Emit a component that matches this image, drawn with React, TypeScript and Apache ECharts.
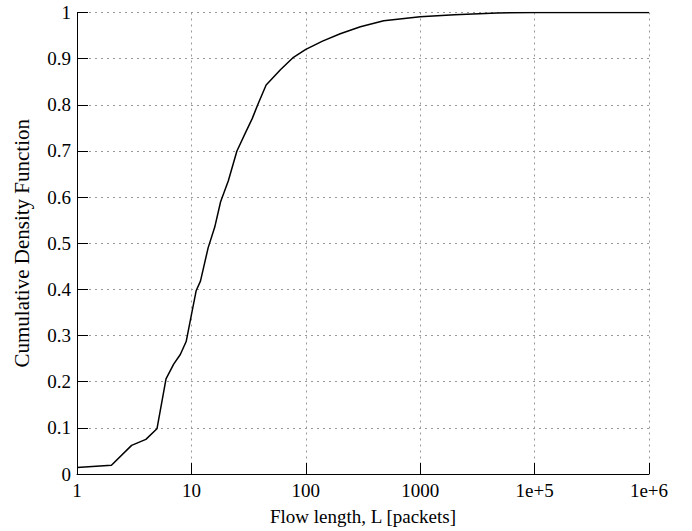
import React, { useEffect, useRef } from "react";
import * as echarts from "echarts";

const flowLength = [1, 2, 3, 4, 5, 6, 7, 8, 9, 10, 11, 12, 14, 16, 18, 21, 25, 30, 34, 38, 45, 60, 78, 100, 140, 200, 300, 480, 1000, 2000, 4700, 10000, 100000];
const cdf = [0.014, 0.019, 0.062, 0.075, 0.098, 0.206, 0.238, 0.259, 0.287, 0.345, 0.397, 0.418, 0.49, 0.535, 0.59, 0.635, 0.70, 0.742, 0.77, 0.80, 0.843, 0.876, 0.903, 0.92, 0.938, 0.954, 0.969, 0.982, 0.991, 0.995, 0.999, 1.0, 1.0];

const xTickValues = [1, 10, 100, 1000, 10000, 100000];
const xTickLabels = ["1", "10", "100", "1000", "1e+5", "1e+6"];

const FONT = "'Liberation Serif', 'DejaVu Serif', serif";

export default function App() {
  const ref = useRef<HTMLDivElement>(null);
  useEffect(() => {
    if (!ref.current) return;
    const chart = echarts.init(ref.current, undefined, { renderer: "svg" });
    const gridLine = { show: true, lineStyle: { color: "#999999", width: 1, type: [2, 4] as any } };
    chart.setOption({
      animation: false,
      backgroundColor: "#ffffff",
      grid: { left: 77, top: 12.5, width: 572, height: 463, containLabel: false },
      xAxis: {
        type: "log",
        logBase: 10,
        min: 1,
        max: 100000,
        name: "Flow length, L [packets]",
        nameLocation: "middle",
        nameGap: 33,
        nameTextStyle: { fontFamily: FONT, fontSize: 19, color: "#000" },
        axisLine: { show: true, onZero: false, lineStyle: { color: "#000", width: 1 } },
        axisTick: { show: true, inside: true, length: 11, lineStyle: { color: "#000", width: 1 } },
        minorTick: { show: false },
        axisLabel: {
          fontFamily: FONT,
          fontSize: 19,
          color: "#000",
          margin: 7,
          formatter: (v: number) => {
            const i = xTickValues.findIndex((t) => Math.abs(Math.log10(t) - Math.log10(v)) < 1e-6);
            return i >= 0 ? xTickLabels[i] : "";
          },
        },
        splitLine: gridLine,
      },
      yAxis: {
        type: "value",
        min: 0,
        max: 1,
        interval: 0.1,
        name: "Cumulative Density Function",
        nameLocation: "middle",
        nameGap: 45,
        nameTextStyle: { fontFamily: FONT, fontSize: 21, color: "#000" },
        axisLine: { show: true, lineStyle: { color: "#000", width: 1 } },
        axisTick: { show: true, inside: true, length: 11, lineStyle: { color: "#000", width: 1 } },
        axisLabel: {
          fontFamily: FONT,
          fontSize: 19,
          color: "#000",
          margin: 6,
          formatter: (v: number) => (Math.abs(v) < 1e-9 ? "0" : Math.abs(v - 1) < 1e-9 ? "1" : v.toFixed(1)),
        },
        splitLine: gridLine,
      },
      series: [
        {
          type: "line",
          data: flowLength.map((l, i) => [l, cdf[i]]),
          showSymbol: false,
          symbol: "none",
          lineStyle: { color: "#000", width: 1.5 },
          smooth: false,
        },
      ],
    });
    return () => chart.dispose();
  }, []);
  return <div ref={ref} style={{ position: "fixed", left: 0, top: 0, width: 692, height: 531 }} />;
}
